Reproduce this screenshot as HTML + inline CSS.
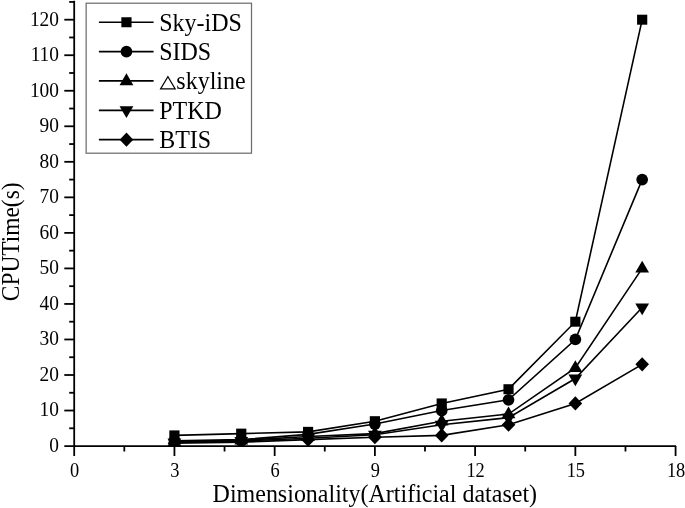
<!DOCTYPE html>
<html><head><meta charset="utf-8"><title>chart</title>
<style>
html,body{margin:0;padding:0;background:#fff;}
svg{display:block;filter:grayscale(1);}
text{font-family:"Liberation Serif",serif;fill:#000;}
</style></head><body>
<svg width="685" height="508" viewBox="0 0 685 508">
<rect x="0" y="0" width="685" height="508" fill="#fff"/>
<g stroke="#000" stroke-width="1.8" fill="none" stroke-linecap="butt">
<line x1="74.2" y1="0.7" x2="74.2" y2="456.0"/>
<line x1="64.3" y1="446.06" x2="676.1" y2="446.06"/>
<line x1="69.2" y1="428.30" x2="74.2" y2="428.30"/>
<line x1="64.3" y1="410.53" x2="74.2" y2="410.53"/>
<line x1="69.2" y1="392.76" x2="74.2" y2="392.76"/>
<line x1="64.3" y1="375.00" x2="74.2" y2="375.00"/>
<line x1="69.2" y1="357.24" x2="74.2" y2="357.24"/>
<line x1="64.3" y1="339.47" x2="74.2" y2="339.47"/>
<line x1="69.2" y1="321.70" x2="74.2" y2="321.70"/>
<line x1="64.3" y1="303.94" x2="74.2" y2="303.94"/>
<line x1="69.2" y1="286.18" x2="74.2" y2="286.18"/>
<line x1="64.3" y1="268.41" x2="74.2" y2="268.41"/>
<line x1="69.2" y1="250.65" x2="74.2" y2="250.65"/>
<line x1="64.3" y1="232.88" x2="74.2" y2="232.88"/>
<line x1="69.2" y1="215.12" x2="74.2" y2="215.12"/>
<line x1="64.3" y1="197.35" x2="74.2" y2="197.35"/>
<line x1="69.2" y1="179.58" x2="74.2" y2="179.58"/>
<line x1="64.3" y1="161.82" x2="74.2" y2="161.82"/>
<line x1="69.2" y1="144.06" x2="74.2" y2="144.06"/>
<line x1="64.3" y1="126.29" x2="74.2" y2="126.29"/>
<line x1="69.2" y1="108.53" x2="74.2" y2="108.53"/>
<line x1="64.3" y1="90.76" x2="74.2" y2="90.76"/>
<line x1="69.2" y1="73.00" x2="74.2" y2="73.00"/>
<line x1="64.3" y1="55.23" x2="74.2" y2="55.23"/>
<line x1="69.2" y1="37.47" x2="74.2" y2="37.47"/>
<line x1="64.3" y1="19.70" x2="74.2" y2="19.70"/>
<line x1="69.2" y1="1.94" x2="74.2" y2="1.94"/>
<line x1="124.31" y1="446.06" x2="124.31" y2="451.5"/>
<line x1="174.43" y1="446.06" x2="174.43" y2="456.0"/>
<line x1="224.54" y1="446.06" x2="224.54" y2="451.5"/>
<line x1="274.66" y1="446.06" x2="274.66" y2="456.0"/>
<line x1="324.77" y1="446.06" x2="324.77" y2="451.5"/>
<line x1="374.89" y1="446.06" x2="374.89" y2="456.0"/>
<line x1="425.00" y1="446.06" x2="425.00" y2="451.5"/>
<line x1="475.12" y1="446.06" x2="475.12" y2="456.0"/>
<line x1="525.24" y1="446.06" x2="525.24" y2="451.5"/>
<line x1="575.35" y1="446.06" x2="575.35" y2="456.0"/>
<line x1="625.47" y1="446.06" x2="625.47" y2="451.5"/>
<line x1="675.58" y1="446.06" x2="675.58" y2="456.0"/>
</g>
<g id="yt">
<text transform="translate(59.00,451.86) scale(0.97,1.07)" font-size="20.0px" text-anchor="end">0</text>
<text transform="translate(59.00,416.33) scale(0.97,1.07)" font-size="20.0px" text-anchor="end">10</text>
<text transform="translate(59.00,380.80) scale(0.97,1.07)" font-size="20.0px" text-anchor="end">20</text>
<text transform="translate(59.00,345.27) scale(0.97,1.07)" font-size="20.0px" text-anchor="end">30</text>
<text transform="translate(59.00,309.74) scale(0.97,1.07)" font-size="20.0px" text-anchor="end">40</text>
<text transform="translate(59.00,274.21) scale(0.97,1.07)" font-size="20.0px" text-anchor="end">50</text>
<text transform="translate(59.00,238.68) scale(0.97,1.07)" font-size="20.0px" text-anchor="end">60</text>
<text transform="translate(59.00,203.15) scale(0.97,1.07)" font-size="20.0px" text-anchor="end">70</text>
<text transform="translate(59.00,167.62) scale(0.97,1.07)" font-size="20.0px" text-anchor="end">80</text>
<text transform="translate(59.00,132.09) scale(0.97,1.07)" font-size="20.0px" text-anchor="end">90</text>
<text transform="translate(59.00,96.56) scale(0.97,1.07)" font-size="20.0px" text-anchor="end">100</text>
<text transform="translate(59.00,61.03) scale(0.97,1.07)" font-size="20.0px" text-anchor="end">110</text>
<text transform="translate(59.00,25.50) scale(0.97,1.07)" font-size="20.0px" text-anchor="end">120</text>
</g><g id="xt">
<text transform="translate(74.70,476.70) scale(0.92,1.07)" font-size="20.0px" text-anchor="middle">0</text>
<text transform="translate(174.93,476.70) scale(0.92,1.07)" font-size="20.0px" text-anchor="middle">3</text>
<text transform="translate(275.16,476.70) scale(0.92,1.07)" font-size="20.0px" text-anchor="middle">6</text>
<text transform="translate(375.39,476.70) scale(0.92,1.07)" font-size="20.0px" text-anchor="middle">9</text>
<text transform="translate(475.62,476.70) scale(0.92,1.07)" font-size="20.0px" text-anchor="middle">12</text>
<text transform="translate(575.85,476.70) scale(0.92,1.07)" font-size="20.0px" text-anchor="middle">15</text>
<text transform="translate(676.08,476.70) scale(0.92,1.07)" font-size="20.0px" text-anchor="middle">18</text>
</g>
<g id="xtitle"><text transform="translate(374.80,501.60) scale(1.0,1.02)" font-size="24.0px" text-anchor="middle">Dimensionality(Artificial dataset)</text></g>
<g id="ytitle"><text transform="translate(18.70,241.80) rotate(-90) scale(0.975,1.05)" font-size="24.0px" text-anchor="middle">CPUTime(s)</text></g>
<defs><clipPath id="plot"><rect x="74.2" y="0" width="612" height="446.66"/></clipPath></defs>
<g clip-path="url(#plot)">
<polyline points="174.43,435.40 241.25,433.62 308.07,431.85 374.89,421.19 441.71,403.42 508.53,389.21 575.35,321.70 642.17,19.70" fill="none" stroke="#000" stroke-width="1.6"/>
<polyline points="174.43,440.73 241.25,439.66 308.07,434.34 374.89,424.03 441.71,410.53 508.53,399.87 575.35,339.47 642.17,179.58" fill="none" stroke="#000" stroke-width="1.6"/>
<polyline points="174.43,441.80 241.25,440.38 308.07,436.47 374.89,433.62 441.71,421.19 508.53,414.08 575.35,367.89 642.17,268.41" fill="none" stroke="#000" stroke-width="1.6"/>
<polyline points="174.43,442.51 241.25,441.09 308.07,438.24 374.89,434.69 441.71,424.74 508.53,417.64 575.35,378.55 642.17,307.49" fill="none" stroke="#000" stroke-width="1.6"/>
<polyline points="174.43,443.22 241.25,442.15 308.07,439.66 374.89,437.18 441.71,435.40 508.53,424.74 575.35,403.42 642.17,364.34" fill="none" stroke="#000" stroke-width="1.6"/>
<g fill="#000">
<rect x="169.33" y="430.40" width="10.2" height="10" />
<rect x="236.15" y="428.62" width="10.2" height="10" />
<rect x="302.97" y="426.85" width="10.2" height="10" />
<rect x="369.79" y="416.19" width="10.2" height="10" />
<rect x="436.61" y="398.42" width="10.2" height="10" />
<rect x="503.43" y="384.21" width="10.2" height="10" />
<rect x="570.25" y="316.70" width="10.2" height="10" />
<rect x="637.07" y="14.70" width="10.2" height="10" />
</g>
<g fill="#000">
<circle cx="174.43" cy="440.73" r="5.85" />
<circle cx="241.25" cy="439.66" r="5.85" />
<circle cx="308.07" cy="434.34" r="5.85" />
<circle cx="374.89" cy="424.03" r="5.85" />
<circle cx="441.71" cy="410.53" r="5.85" />
<circle cx="508.53" cy="399.87" r="5.85" />
<circle cx="575.35" cy="339.47" r="5.85" />
<circle cx="642.17" cy="179.58" r="5.85" />
</g>
<g fill="#000">
<path d="M174.43 434.20 L181.33 446.00 L167.53 446.00 Z" />
<path d="M241.25 432.78 L248.15 444.58 L234.35 444.58 Z" />
<path d="M308.07 428.87 L314.97 440.67 L301.17 440.67 Z" />
<path d="M374.89 426.02 L381.79 437.82 L367.99 437.82 Z" />
<path d="M441.71 413.59 L448.61 425.39 L434.81 425.39 Z" />
<path d="M508.53 406.48 L515.43 418.28 L501.63 418.28 Z" />
<path d="M575.35 360.29 L582.25 372.09 L568.45 372.09 Z" />
<path d="M642.17 260.81 L649.07 272.61 L635.27 272.61 Z" />
</g>
<g fill="#000">
<path d="M174.43 450.31 L181.33 438.51 L167.53 438.51 Z" />
<path d="M241.25 448.89 L248.15 437.09 L234.35 437.09 Z" />
<path d="M308.07 446.04 L314.97 434.24 L301.17 434.24 Z" />
<path d="M374.89 442.49 L381.79 430.69 L367.99 430.69 Z" />
<path d="M441.71 432.54 L448.61 420.74 L434.81 420.74 Z" />
<path d="M508.53 425.44 L515.43 413.64 L501.63 413.64 Z" />
<path d="M575.35 386.35 L582.25 374.55 L568.45 374.55 Z" />
<path d="M642.17 315.29 L649.07 303.49 L635.27 303.49 Z" />
</g>
<g fill="#000">
<path d="M174.43 436.12 L181.23 443.22 L174.43 450.32 L167.63 443.22 Z" />
<path d="M241.25 435.05 L248.05 442.15 L241.25 449.25 L234.45 442.15 Z" />
<path d="M308.07 432.56 L314.87 439.66 L308.07 446.76 L301.27 439.66 Z" />
<path d="M374.89 430.08 L381.69 437.18 L374.89 444.28 L368.09 437.18 Z" />
<path d="M441.71 428.30 L448.51 435.40 L441.71 442.50 L434.91 435.40 Z" />
<path d="M508.53 417.64 L515.33 424.74 L508.53 431.84 L501.73 424.74 Z" />
<path d="M575.35 396.32 L582.15 403.42 L575.35 410.52 L568.55 403.42 Z" />
<path d="M642.17 357.24 L648.97 364.34 L642.17 371.44 L635.37 364.34 Z" />
</g>
</g>
<rect x="86.15" y="3.2" width="165.35" height="150.0" fill="#fff" stroke="#6e6e6e" stroke-width="1.25"/>
<g id="leg">
<line x1="98.9" y1="22.25" x2="153.6" y2="22.25" stroke="#000" stroke-width="1.7"/>
<g fill="#000"><rect x="121.35" y="17.25" width="10.2" height="10" /></g>
<text transform="translate(159.20,30.55) scale(1.0,1.02)" font-size="24.0px" text-anchor="start">Sky-iDS</text>
<line x1="98.9" y1="51.60" x2="153.6" y2="51.60" stroke="#000" stroke-width="1.7"/>
<g fill="#000"><circle cx="126.45" cy="51.60" r="5.85" /></g>
<text transform="translate(159.20,59.90) scale(1.0,1.02)" font-size="24.0px" text-anchor="start">SIDS</text>
<line x1="98.9" y1="80.95" x2="153.6" y2="80.95" stroke="#000" stroke-width="1.7"/>
<g fill="#000"><path d="M126.45 73.35 L133.35 85.15 L119.55 85.15 Z" /></g>
<path d="M160.6 88.85 L167.9 76.65 L175.2 88.85 Z" fill="none" stroke="#000" stroke-width="1.15"/>
<text transform="translate(176.30,89.25) scale(1.0,1.02)" font-size="24.0px" text-anchor="start">skyline</text>
<line x1="98.9" y1="110.30" x2="153.6" y2="110.30" stroke="#000" stroke-width="1.7"/>
<g fill="#000"><path d="M126.45 118.10 L133.35 106.30 L119.55 106.30 Z" /></g>
<text transform="translate(159.20,118.60) scale(1.0,1.02)" font-size="24.0px" text-anchor="start">PTKD</text>
<line x1="98.9" y1="139.65" x2="153.6" y2="139.65" stroke="#000" stroke-width="1.7"/>
<g fill="#000"><path d="M126.45 132.55 L133.25 139.65 L126.45 146.75 L119.65 139.65 Z" /></g>
<text transform="translate(159.20,147.95) scale(1.0,1.02)" font-size="24.0px" text-anchor="start">BTIS</text>
</g>
</svg></body></html>
